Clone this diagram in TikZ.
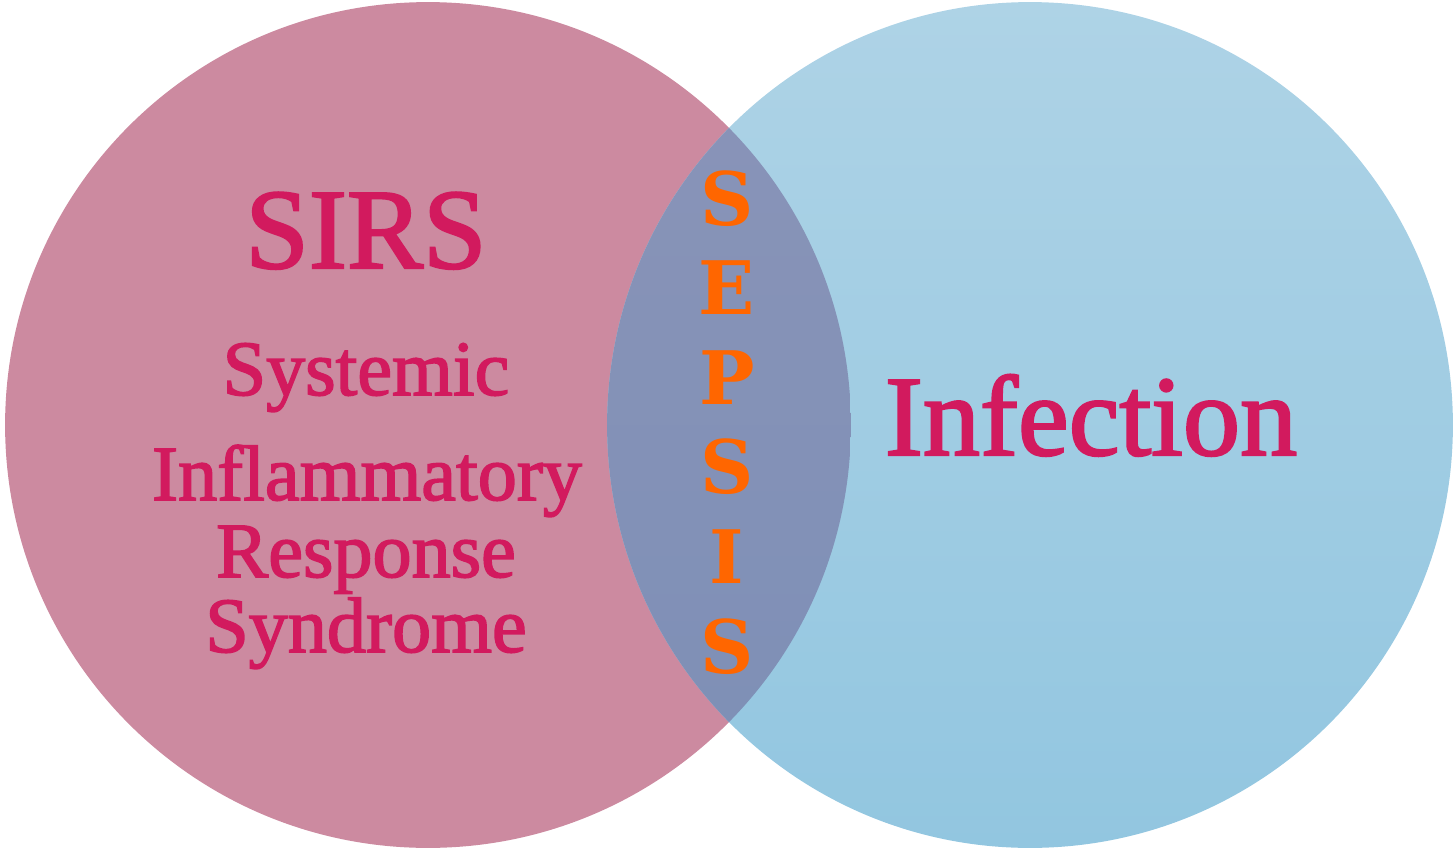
\documentclass[tikz,border=0pt]{standalone}
\usepackage{fontspec}
\setmainfont{Liberation Serif}
\newfontfamily\labelfont{Liberation Serif}[FakeBold=2]
\newfontfamily\sepsisfont{DejaVu Serif}

\definecolor{sirspink}{HTML}{CC8AA0}
\definecolor{infblueTop}{HTML}{AED3E6}
\definecolor{infblueBot}{HTML}{92C6E0}
\definecolor{sepTop}{HTML}{8A94B8}
\definecolor{sepBot}{HTML}{7D8FB6}
\definecolor{labelred}{HTML}{D21A5E}
\definecolor{sepsisorange}{HTML}{FF6600}

\tikzset{
    bigword/.style={anchor=base, text=labelred, font=\labelfont\fontsize{65pt}{70pt}\selectfont, inner sep=0pt},
    subword/.style={anchor=base, text=labelred, font=\labelfont\fontsize{44.5pt}{48pt}\selectfont, inner sep=0pt},
    sepsisletter/.style={anchor=base, text=sepsisorange, font=\sepsisfont\fontsize{42pt}{44pt}\selectfont\bfseries, inner sep=0pt}
}

\begin{document}
\begin{tikzpicture}[x=0.02cm, y=-0.02cm]

        \useasboundingbox (0, 0) rectangle (1455, 849);

        % === Circle centres ===
        \coordinate (sirsc) at (428, 425);
        \coordinate (infc)  at (1030, 425);

        % === SIRS circle ===
        \fill[sirspink] (sirsc) circle (8.46cm);

        % === Infection circle (light vertical gradient) ===
        \shade[top color=infblueTop, bottom color=infblueBot] (infc) circle (8.46cm);

        % === Overlap lens: sepsis ===
        \begin{scope}
            \clip (sirsc) circle (8.46cm);
            \shade[top color=sepTop, bottom color=sepBot] (infc) circle (8.46cm);
        \end{scope}

        % === Left labels ===
        \node[bigword] (sirs) at (366, 268) {SIRS};
        \node[subword] (systemic) at (366, 395) {Systemic};
        \node[subword] (inflam)   at (367, 500) {Inflammatory};
        \node[subword] (response) at (366, 577) {Response};
        \node[subword] (syndrome) at (366, 652) {Syndrome};

        % === Right label ===
        \node[bigword] (infection) at (1091, 455) {Infection};

        % === Vertical SEPSIS in the lens ===
        \foreach \l [count=\i from 0] in {S,E,P,S,I,S}
            \node[sepsisletter] (sep\i) at (727, {225 + 89.6*\i}) {\l};

    \end{tikzpicture}
\end{document}
